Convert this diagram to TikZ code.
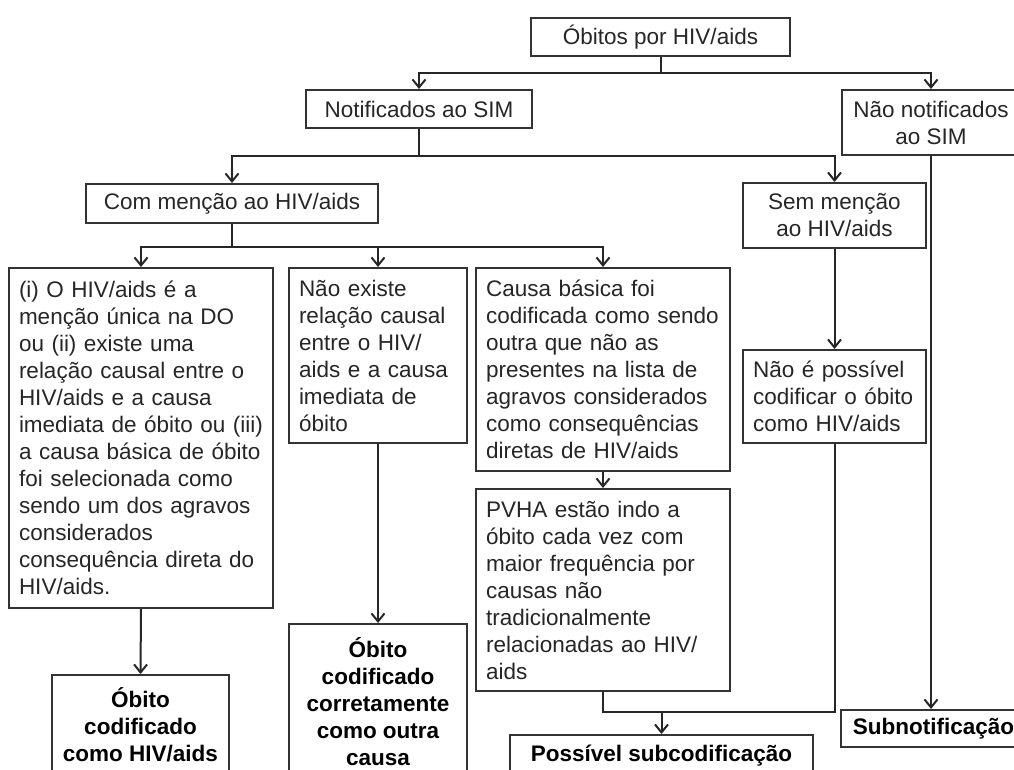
\documentclass[tikz,border=0pt]{standalone}
\usepackage{fontspec}
\setmainfont{Liberation Sans}
\usetikzlibrary{arrows.meta,calc}
\tikzset{
  base/.style={draw=black!80, line width=2pt, text=black!85, inner ysep=0pt, anchor=north west,
    font=\fontsize{22.5}{27}\selectfont},
  lbox/.style n args={2}{base, inner xsep=10pt, minimum width=#1pt, text width=#1pt-20pt, minimum height=#2pt, align=left},
  cbox/.style n args={2}{base, inner xsep=0pt, minimum width=#1pt, minimum height=#2pt, align=center},
  bbox/.style n args={2}{cbox={#1}{#2}, text=black, font=\fontsize{22.5}{27}\selectfont\bfseries},
  conn/.style={draw=black!85, line width=2pt},
  arr/.style={conn, -{Straight Barb[length=8pt,width=13pt,line width=2pt]}}
}
\begin{document}
\begin{tikzpicture}[x=1pt,y=-1pt]
\useasboundingbox (0,0) rectangle (1014,769);
\fill[white] (0,0) rectangle (1014,769);
\clip (0,0) rectangle (1014,769);

\node[cbox={259}{38}] (top) at (530,17) {Óbitos por HIV/aids};
\node[cbox={226}{38}] (notif) at (305,89) {Notificados ao SIM};
\node[cbox={178}{65}] (naonotif) at (841,89) {Não notificados\\ao SIM};
\node[cbox={292}{39}] (commencao) at (85,183) {Com menção ao HIV/aids};
\node[cbox={183}{65}] (semmencao) at (742,182) {Sem menção\\ao HIV/aids};

\node[lbox={264}{340}] (box1) at (8,267) {(i) O HIV/aids é a\\menção única na DO\\ou (ii) existe uma\\relação causal entre o\\HIV/aids e a causa\\imediata de óbito ou (iii)\\a causa básica de óbito\\foi selecionada como\\sendo um dos agravos\\considerados\\consequência direta do\\HIV/aids.};
\node[lbox={178}{175}] (box2) at (288,267) {Não existe\\relação causal\\entre o HIV/\\aids e a causa\\imediata de\\óbito};
\node[lbox={254}{203}] (box3) at (475,267) {Causa básica foi\\codificada como sendo\\outra que não as\\presentes na lista de\\agravos considerados\\como consequências\\diretas de HIV/aids};
\node[lbox={254}{202}] (box4) at (475,488) {PVHA estão indo a\\óbito cada vez com\\maior frequência por\\causas não\\tradicionalmente\\relacionadas ao HIV/\\aids};
\node[lbox={183}{93}] (naopossivel) at (742,349) {Não é possível\\codificar o óbito\\como HIV/aids};

\node[bbox={177}{99}] (res1) at (51,674) {Óbito\\codificado\\como HIV/aids};
\node[bbox={178}{156}] (res2) at (288,623) {Óbito\\codificado\\corretamente\\como outra\\causa};
\node[bbox={303}{42}] (res3) at (509,734) {Possível subcodificação};
\node[bbox={185}{37}] (res4) at (840,709) {Subnotificação};

\draw[conn] (top.south) -- ++(0,16) coordinate (j1);
\draw[arr] (j1) -| (notif.north);
\draw[arr] (j1) -| (naonotif.north);

\draw[conn] (notif.south) -- ++(0,27) coordinate (j2);
\draw[arr] (j2) -| (commencao.north);
\draw[arr] (j2) -| (semmencao.north);

\draw[arr] (naonotif.south) -- (naonotif.south |- res4.north);

\draw[conn] (commencao.south) -- ++(0,23) coordinate (j3);
\draw[arr] (j3) -| (box1.north);
\draw[arr] (j3) -| (box2.north);
\draw[arr] (j3) -| (box3.north);

\draw[arr] (box1.south) -- (res1.north);
\draw[arr] (box2.south) -- (res2.north);
\draw[arr] (box3.south) -- (box4.north);
\draw[arr] (semmencao.south) -- (naopossivel.north);

\draw[conn] (box4.south) -- ++(0,20) coordinate (j4) -| (naopossivel.south);
\draw[arr] (j4 -| res3.north) -- (res3.north);
\end{tikzpicture}
\end{document}
